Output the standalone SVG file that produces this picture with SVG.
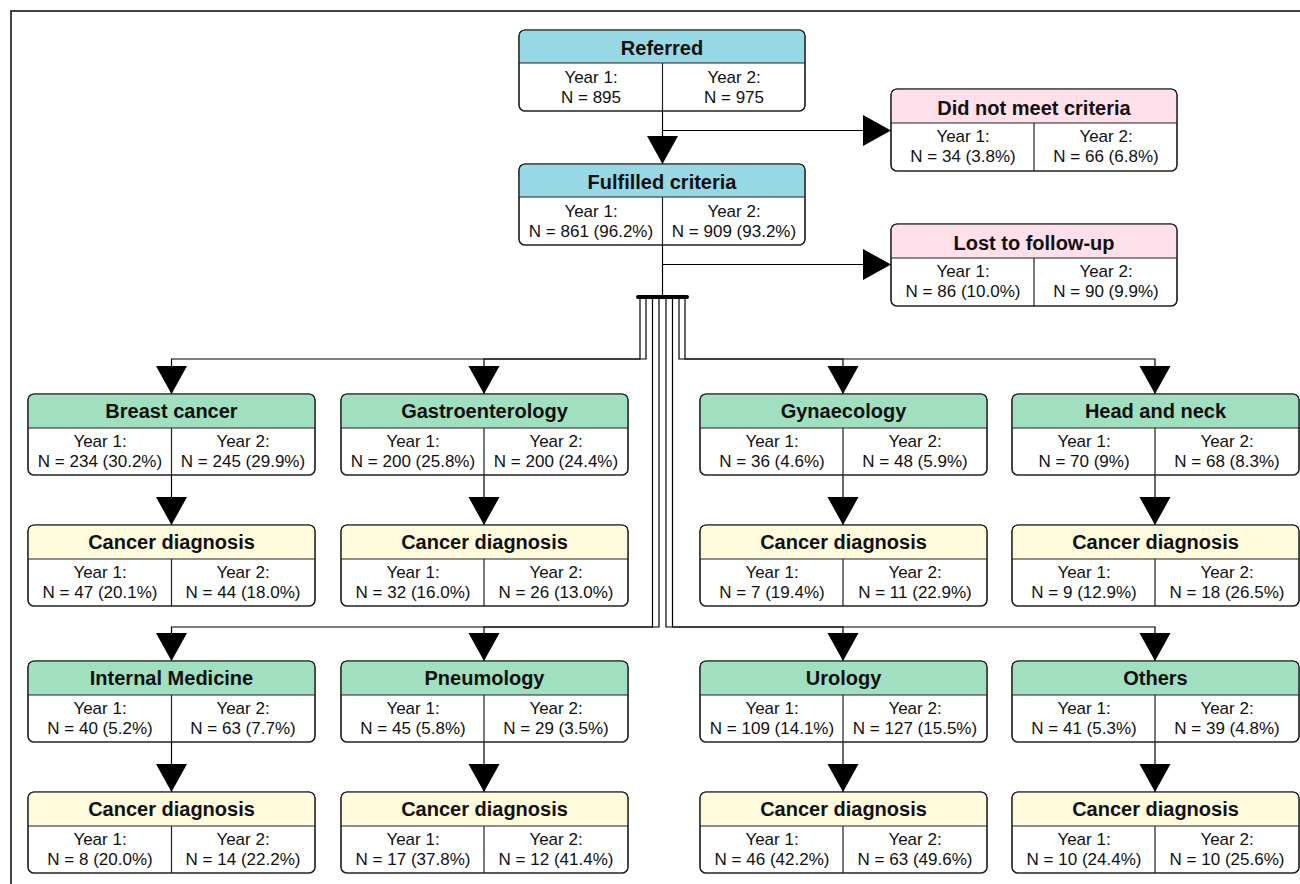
<svg xmlns="http://www.w3.org/2000/svg" width="1300" height="884" viewBox="0 0 1300 884">
<defs>
<style>
.bx{stroke:#222;stroke-width:1.2}
.body{fill:#fff}
.blue{fill:#97d8e4}
.pink{fill:#ffdfea}
.green{fill:#a0dfc0}
.yel{fill:#fffadc}
.ln{fill:none;stroke:#222;stroke-width:1.2}
.h{font-family:"Liberation Sans",Arial,sans-serif;font-weight:bold;font-size:20px;fill:#111;text-anchor:middle}
.t{font-family:"Liberation Sans",Arial,sans-serif;font-size:17px;fill:#111;text-anchor:middle}
.c{fill:none;stroke:#000;stroke-width:1.2}
</style>
<marker id="ar" markerUnits="userSpaceOnUse" markerWidth="29" markerHeight="32" refX="28" refY="15.5" orient="auto" viewBox="0 0 29 32">
<path d="M0,0 L28,15.5 L0,31 z" fill="#000"/>
</marker>
<symbol id="box" overflow="visible">
</symbol>
</defs>
<rect width="1300" height="884" fill="#fff"/>
<path d="M11,884 V11 H1300" fill="none" stroke="#444" stroke-width="2"/>

<g id="connectors">
<path class="c" d="M662.5,111 V164" marker-end="url(#ar)"/>
<path class="c" d="M662.5,130.5 H891" marker-end="url(#ar)"/>
<path class="c" d="M662.5,245 V297"/>
<path class="c" d="M662.5,264.5 H891" marker-end="url(#ar)"/>
<line x1="638" y1="297" x2="687" y2="297" stroke="#000" stroke-width="4" stroke-linecap="round"/>
<path class="c" d="M640,297 V359 H171.5 V394" marker-end="url(#ar)"/>
<path class="c" d="M646,297 V359 H484 V394" marker-end="url(#ar)"/>
<path class="c" d="M679,297 V359 H843 V394" marker-end="url(#ar)"/>
<path class="c" d="M685,297 V359 H1155 V394" marker-end="url(#ar)"/>
<path class="c" d="M652.5,297 V627 H171.5 V661" marker-end="url(#ar)"/>
<path class="c" d="M659,297 V627 H484 V661" marker-end="url(#ar)"/>
<path class="c" d="M666,297 V627 H843 V661" marker-end="url(#ar)"/>
<path class="c" d="M672.5,297 V627 H1155 V661" marker-end="url(#ar)"/>
<path class="c" d="M171.5,475 V525" marker-end="url(#ar)"/>
<path class="c" d="M484,475 V525" marker-end="url(#ar)"/>
<path class="c" d="M843,475 V525" marker-end="url(#ar)"/>
<path class="c" d="M1155,475 V525" marker-end="url(#ar)"/>
<path class="c" d="M171.5,742 V792" marker-end="url(#ar)"/>
<path class="c" d="M484,742 V792" marker-end="url(#ar)"/>
<path class="c" d="M843,742 V792" marker-end="url(#ar)"/>
<path class="c" d="M1155,742 V792" marker-end="url(#ar)"/>
</g>

<g id="referred" transform="translate(519,30)">
<rect class="body bx" width="286" height="81" rx="6"/>
<path class="blue" d="M6,0.6 H280 A5.4,5.4 0 0 1 285.4,6 V33 H0.6 V6 A5.4,5.4 0 0 1 6,0.6 z"/>
<rect class="bx" width="286" height="81" rx="6" fill="none"/>
<path class="ln" d="M0,33 H286 M143.5,33 V81"/>
<text class="h" x="143" y="25">Referred</text>
<text class="t" x="72" y="53">Year 1:</text><text class="t" x="72" y="73">N = 895</text>
<text class="t" x="215" y="53">Year 2:</text><text class="t" x="215" y="73">N = 975</text>
</g>

<g id="fulfilled" transform="translate(519,164)">
<rect class="body bx" width="286" height="81" rx="6"/>
<path class="blue" d="M6,0.6 H280 A5.4,5.4 0 0 1 285.4,6 V33 H0.6 V6 A5.4,5.4 0 0 1 6,0.6 z"/>
<rect class="bx" width="286" height="81" rx="6" fill="none"/>
<path class="ln" d="M0,33 H286 M143.5,33 V81"/>
<text class="h" x="143" y="25">Fulfilled criteria</text>
<text class="t" x="72" y="53">Year 1:</text><text class="t" x="72" y="73">N = 861 (96.2%)</text>
<text class="t" x="215" y="53">Year 2:</text><text class="t" x="215" y="73">N = 909 (93.2%)</text>
</g>

<g id="notmet" transform="translate(891,89)">
<rect class="body bx" width="286" height="82" rx="6"/>
<path class="pink" d="M6,0.6 H280 A5.4,5.4 0 0 1 285.4,6 V34 H0.6 V6 A5.4,5.4 0 0 1 6,0.6 z"/>
<rect class="bx" width="286" height="82" rx="6" fill="none"/>
<path class="ln" d="M0,34 H286 M143,34 V82"/>
<text class="h" x="143" y="26">Did not meet criteria</text>
<text class="t" x="72" y="53">Year 1:</text><text class="t" x="72" y="73">N = 34 (3.8%)</text>
<text class="t" x="215" y="53">Year 2:</text><text class="t" x="215" y="73">N = 66 (6.8%)</text>
</g>

<g id="lost" transform="translate(891,224)">
<rect class="body bx" width="286" height="82" rx="6"/>
<path class="pink" d="M6,0.6 H280 A5.4,5.4 0 0 1 285.4,6 V34 H0.6 V6 A5.4,5.4 0 0 1 6,0.6 z"/>
<rect class="bx" width="286" height="82" rx="6" fill="none"/>
<path class="ln" d="M0,34 H286 M143,34 V82"/>
<text class="h" x="143" y="26">Lost to follow-up</text>
<text class="t" x="72" y="53">Year 1:</text><text class="t" x="72" y="73">N = 86 (10.0%)</text>
<text class="t" x="215" y="53">Year 2:</text><text class="t" x="215" y="73">N = 90 (9.9%)</text>
</g>

<!-- Row 1 -->
<g id="breast" transform="translate(28,394)">
<rect class="body bx" width="287" height="81" rx="6"/>
<path class="green" d="M6,0.6 H281 A5.4,5.4 0 0 1 286.4,6 V34 H0.6 V6 A5.4,5.4 0 0 1 6,0.6 z"/>
<rect class="bx" width="287" height="81" rx="6" fill="none"/>
<path class="ln" d="M0,34 H287 M143.5,34 V81"/>
<text class="h" x="143.5" y="24">Breast cancer</text>
<text class="t" x="72" y="53">Year 1:</text><text class="t" x="72" y="73">N = 234 (30.2%)</text>
<text class="t" x="215" y="53">Year 2:</text><text class="t" x="215" y="73">N = 245 (29.9%)</text>
</g>
<g id="gastro" transform="translate(341,394)">
<rect class="body bx" width="287" height="81" rx="6"/>
<path class="green" d="M6,0.6 H281 A5.4,5.4 0 0 1 286.4,6 V34 H0.6 V6 A5.4,5.4 0 0 1 6,0.6 z"/>
<rect class="bx" width="287" height="81" rx="6" fill="none"/>
<path class="ln" d="M0,34 H287 M143,34 V81"/>
<text class="h" x="143.5" y="24">Gastroenterology</text>
<text class="t" x="72" y="53">Year 1:</text><text class="t" x="72" y="73">N = 200 (25.8%)</text>
<text class="t" x="215" y="53">Year 2:</text><text class="t" x="215" y="73">N = 200 (24.4%)</text>
</g>
<g id="gyn" transform="translate(700,394)">
<rect class="body bx" width="287" height="81" rx="6"/>
<path class="green" d="M6,0.6 H281 A5.4,5.4 0 0 1 286.4,6 V34 H0.6 V6 A5.4,5.4 0 0 1 6,0.6 z"/>
<rect class="bx" width="287" height="81" rx="6" fill="none"/>
<path class="ln" d="M0,34 H287 M143,34 V81"/>
<text class="h" x="143.5" y="24">Gynaecology</text>
<text class="t" x="72" y="53">Year 1:</text><text class="t" x="72" y="73">N = 36 (4.6%)</text>
<text class="t" x="215" y="53">Year 2:</text><text class="t" x="215" y="73">N = 48 (5.9%)</text>
</g>
<g id="headneck" transform="translate(1012,394)">
<rect class="body bx" width="287" height="81" rx="6"/>
<path class="green" d="M6,0.6 H281 A5.4,5.4 0 0 1 286.4,6 V34 H0.6 V6 A5.4,5.4 0 0 1 6,0.6 z"/>
<rect class="bx" width="287" height="81" rx="6" fill="none"/>
<path class="ln" d="M0,34 H287 M143,34 V81"/>
<text class="h" x="143.5" y="24">Head and neck</text>
<text class="t" x="72" y="53">Year 1:</text><text class="t" x="72" y="73">N = 70 (9%)</text>
<text class="t" x="215" y="53">Year 2:</text><text class="t" x="215" y="73">N = 68 (8.3%)</text>
</g>

<!-- Row 2 -->
<g id="dx-breast" transform="translate(28,525)">
<rect class="body bx" width="287" height="81" rx="6"/>
<path class="yel" d="M6,0.6 H281 A5.4,5.4 0 0 1 286.4,6 V34 H0.6 V6 A5.4,5.4 0 0 1 6,0.6 z"/>
<rect class="bx" width="287" height="81" rx="6" fill="none"/>
<path class="ln" d="M0,34 H287 M143.5,34 V81"/>
<text class="h" x="143.5" y="24">Cancer diagnosis</text>
<text class="t" x="72" y="53">Year 1:</text><text class="t" x="72" y="73">N = 47 (20.1%)</text>
<text class="t" x="215" y="53">Year 2:</text><text class="t" x="215" y="73">N = 44 (18.0%)</text>
</g>
<g id="dx-gastro" transform="translate(341,525)">
<rect class="body bx" width="287" height="81" rx="6"/>
<path class="yel" d="M6,0.6 H281 A5.4,5.4 0 0 1 286.4,6 V34 H0.6 V6 A5.4,5.4 0 0 1 6,0.6 z"/>
<rect class="bx" width="287" height="81" rx="6" fill="none"/>
<path class="ln" d="M0,34 H287 M143,34 V81"/>
<text class="h" x="143.5" y="24">Cancer diagnosis</text>
<text class="t" x="72" y="53">Year 1:</text><text class="t" x="72" y="73">N = 32 (16.0%)</text>
<text class="t" x="215" y="53">Year 2:</text><text class="t" x="215" y="73">N = 26 (13.0%)</text>
</g>
<g id="dx-gyn" transform="translate(700,525)">
<rect class="body bx" width="287" height="81" rx="6"/>
<path class="yel" d="M6,0.6 H281 A5.4,5.4 0 0 1 286.4,6 V34 H0.6 V6 A5.4,5.4 0 0 1 6,0.6 z"/>
<rect class="bx" width="287" height="81" rx="6" fill="none"/>
<path class="ln" d="M0,34 H287 M143,34 V81"/>
<text class="h" x="143.5" y="24">Cancer diagnosis</text>
<text class="t" x="72" y="53">Year 1:</text><text class="t" x="72" y="73">N = 7 (19.4%)</text>
<text class="t" x="215" y="53">Year 2:</text><text class="t" x="215" y="73">N = 11 (22.9%)</text>
</g>
<g id="dx-headneck" transform="translate(1012,525)">
<rect class="body bx" width="287" height="81" rx="6"/>
<path class="yel" d="M6,0.6 H281 A5.4,5.4 0 0 1 286.4,6 V34 H0.6 V6 A5.4,5.4 0 0 1 6,0.6 z"/>
<rect class="bx" width="287" height="81" rx="6" fill="none"/>
<path class="ln" d="M0,34 H287 M143,34 V81"/>
<text class="h" x="143.5" y="24">Cancer diagnosis</text>
<text class="t" x="72" y="53">Year 1:</text><text class="t" x="72" y="73">N = 9 (12.9%)</text>
<text class="t" x="215" y="53">Year 2:</text><text class="t" x="215" y="73">N = 18 (26.5%)</text>
</g>

<!-- Row 3 -->
<g id="internal" transform="translate(28,661)">
<rect class="body bx" width="287" height="81" rx="6"/>
<path class="green" d="M6,0.6 H281 A5.4,5.4 0 0 1 286.4,6 V34 H0.6 V6 A5.4,5.4 0 0 1 6,0.6 z"/>
<rect class="bx" width="287" height="81" rx="6" fill="none"/>
<path class="ln" d="M0,34 H287 M143.5,34 V81"/>
<text class="h" x="143.5" y="24">Internal Medicine</text>
<text class="t" x="72" y="53">Year 1:</text><text class="t" x="72" y="73">N = 40 (5.2%)</text>
<text class="t" x="215" y="53">Year 2:</text><text class="t" x="215" y="73">N = 63 (7.7%)</text>
</g>
<g id="pneumo" transform="translate(341,661)">
<rect class="body bx" width="287" height="81" rx="6"/>
<path class="green" d="M6,0.6 H281 A5.4,5.4 0 0 1 286.4,6 V34 H0.6 V6 A5.4,5.4 0 0 1 6,0.6 z"/>
<rect class="bx" width="287" height="81" rx="6" fill="none"/>
<path class="ln" d="M0,34 H287 M143,34 V81"/>
<text class="h" x="143.5" y="24">Pneumology</text>
<text class="t" x="72" y="53">Year 1:</text><text class="t" x="72" y="73">N = 45 (5.8%)</text>
<text class="t" x="215" y="53">Year 2:</text><text class="t" x="215" y="73">N = 29 (3.5%)</text>
</g>
<g id="urology" transform="translate(700,661)">
<rect class="body bx" width="287" height="81" rx="6"/>
<path class="green" d="M6,0.6 H281 A5.4,5.4 0 0 1 286.4,6 V34 H0.6 V6 A5.4,5.4 0 0 1 6,0.6 z"/>
<rect class="bx" width="287" height="81" rx="6" fill="none"/>
<path class="ln" d="M0,34 H287 M143,34 V81"/>
<text class="h" x="143.5" y="24">Urology</text>
<text class="t" x="72" y="53">Year 1:</text><text class="t" x="72" y="73">N = 109 (14.1%)</text>
<text class="t" x="215" y="53">Year 2:</text><text class="t" x="215" y="73">N = 127 (15.5%)</text>
</g>
<g id="others" transform="translate(1012,661)">
<rect class="body bx" width="287" height="81" rx="6"/>
<path class="green" d="M6,0.6 H281 A5.4,5.4 0 0 1 286.4,6 V34 H0.6 V6 A5.4,5.4 0 0 1 6,0.6 z"/>
<rect class="bx" width="287" height="81" rx="6" fill="none"/>
<path class="ln" d="M0,34 H287 M143,34 V81"/>
<text class="h" x="143.5" y="24">Others</text>
<text class="t" x="72" y="53">Year 1:</text><text class="t" x="72" y="73">N = 41 (5.3%)</text>
<text class="t" x="215" y="53">Year 2:</text><text class="t" x="215" y="73">N = 39 (4.8%)</text>
</g>

<!-- Row 4 -->
<g id="dx-internal" transform="translate(28,792)">
<rect class="body bx" width="287" height="81" rx="6"/>
<path class="yel" d="M6,0.6 H281 A5.4,5.4 0 0 1 286.4,6 V34 H0.6 V6 A5.4,5.4 0 0 1 6,0.6 z"/>
<rect class="bx" width="287" height="81" rx="6" fill="none"/>
<path class="ln" d="M0,34 H287 M143.5,34 V81"/>
<text class="h" x="143.5" y="24">Cancer diagnosis</text>
<text class="t" x="72" y="53">Year 1:</text><text class="t" x="72" y="73">N = 8 (20.0%)</text>
<text class="t" x="215" y="53">Year 2:</text><text class="t" x="215" y="73">N = 14 (22.2%)</text>
</g>
<g id="dx-pneumo" transform="translate(341,792)">
<rect class="body bx" width="287" height="81" rx="6"/>
<path class="yel" d="M6,0.6 H281 A5.4,5.4 0 0 1 286.4,6 V34 H0.6 V6 A5.4,5.4 0 0 1 6,0.6 z"/>
<rect class="bx" width="287" height="81" rx="6" fill="none"/>
<path class="ln" d="M0,34 H287 M143,34 V81"/>
<text class="h" x="143.5" y="24">Cancer diagnosis</text>
<text class="t" x="72" y="53">Year 1:</text><text class="t" x="72" y="73">N = 17 (37.8%)</text>
<text class="t" x="215" y="53">Year 2:</text><text class="t" x="215" y="73">N = 12 (41.4%)</text>
</g>
<g id="dx-urology" transform="translate(700,792)">
<rect class="body bx" width="287" height="81" rx="6"/>
<path class="yel" d="M6,0.6 H281 A5.4,5.4 0 0 1 286.4,6 V34 H0.6 V6 A5.4,5.4 0 0 1 6,0.6 z"/>
<rect class="bx" width="287" height="81" rx="6" fill="none"/>
<path class="ln" d="M0,34 H287 M143,34 V81"/>
<text class="h" x="143.5" y="24">Cancer diagnosis</text>
<text class="t" x="72" y="53">Year 1:</text><text class="t" x="72" y="73">N = 46 (42.2%)</text>
<text class="t" x="215" y="53">Year 2:</text><text class="t" x="215" y="73">N = 63 (49.6%)</text>
</g>
<g id="dx-others" transform="translate(1012,792)">
<rect class="body bx" width="287" height="81" rx="6"/>
<path class="yel" d="M6,0.6 H281 A5.4,5.4 0 0 1 286.4,6 V34 H0.6 V6 A5.4,5.4 0 0 1 6,0.6 z"/>
<rect class="bx" width="287" height="81" rx="6" fill="none"/>
<path class="ln" d="M0,34 H287 M143,34 V81"/>
<text class="h" x="143.5" y="24">Cancer diagnosis</text>
<text class="t" x="72" y="53">Year 1:</text><text class="t" x="72" y="73">N = 10 (24.4%)</text>
<text class="t" x="215" y="53">Year 2:</text><text class="t" x="215" y="73">N = 10 (25.6%)</text>
</g>
</svg>
